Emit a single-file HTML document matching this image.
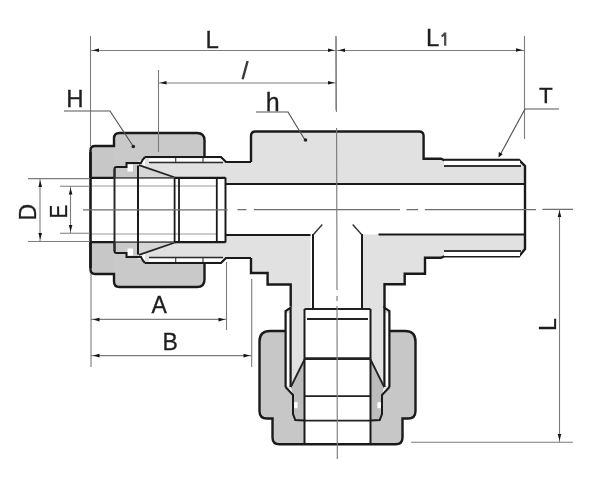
<!DOCTYPE html>
<html><head><meta charset="utf-8">
<style>
html,body{margin:0;padding:0;background:#fff;}
body{width:603px;height:485px;overflow:hidden;}
svg{display:block;will-change:transform;}
text{font-family:"Liberation Sans",sans-serif;fill:#1e1e1e;}
</style></head>
<body>
<svg width="603" height="485" viewBox="0 0 603 485">
<defs>
  <!-- top half of left fitting (mirrored about y=210) -->
  
  <!-- right half of bottom fitting (mirrored about x=337.5) -->
  
</defs>

<!-- body silhouette -->
<path d="M145,157 H221 L226,162 H251 V136 Q251,131.5 255.5,131.5 H419 Q423.6,131.5 423.6,136 V158.7 H441 L444,160 H519 L525,166 V249 L519,256.4 H444 L441,257.8 H425 V273.8 H404.7 V284.2 H384.5 V307.7 L389.8,311 V389 H284.7 V311 L290.7,306.5 V284.5 H267.6 V273 H251 V258 H226 L221,263 H145 Z" fill="#e1e1e1"/>
<!-- main bore -->
<path d="M225.5,184 H525 V234.5 H225.5 Z" fill="#fff"/>
<!-- branch bore -->
<rect x="310.5" y="234" width="51.5" height="76" fill="#fff"/>
<rect x="90.5" y="178" width="135" height="64.5" fill="#fff"/>
<rect x="304.5" y="309" width="66" height="135.3" fill="#fff"/>

<g>
    <!-- ferrule -->
    <polygon points="114.5,178 114.5,167 126,167 126,163 141,163 143,165.4 176,178" fill="#d6d6d6"/>
    <polygon points="114.5,178 114.5,167 126,167 126,163 138,163 138,178" fill="#c9c9c9"/>
    <!-- nut back -->
    <path d="M90.5,178 V150.5 Q90.5,146 95,146 H114 V178 Z" fill="#c7c7c7"/>
    <!-- nut hex -->
    <path d="M114,167 V138.5 Q114,133 119.5,133 H197 Q204.5,133 204.5,140.5 V157 H145 L141,160.5 L135,163 H126 V167 Z" fill="#c9c9c9"/>
    <!-- strip -->
    <rect x="149" y="158.3" width="74" height="3.4" fill="#fff"/>
    <rect x="127.5" y="164.5" width="5.5" height="7" fill="#fff"/>
    <!-- nut outline -->
    <path d="M90.5,178 V150.5 Q90.5,146 95,146 H114 V138.5 Q114,133 119.5,133 H197 Q204.5,133 204.5,140.5 V157" fill="none" stroke="#1a1a1a" stroke-width="2.4"/>
    <path d="M145,157 H221 L226,162 H251" fill="none" stroke="#1a1a1a" stroke-width="2.2"/>
    <path d="M114.5,178 V169 Q114.5,167 116.5,167 H126.5 V163 H141 L142.5,160 L145,157" fill="none" stroke="#1a1a1a" stroke-width="2"/>
    <path d="M149,162.5 H223" stroke="#2a2a2a" stroke-width="1.4"/>
    <path d="M175.7,158 V162 M203,158 V162" stroke="#444" stroke-width="1.2"/>
    <path d="M139,165.2 L175,177.5" stroke="#222" stroke-width="1.8"/>
    <!-- tube top -->
    <path d="M90.5,177.8 H114.5 M175,177.8 H225.5" stroke="#1a1a1a" stroke-width="2.2"/><path d="M114.5,177.8 H175" stroke="#555" stroke-width="1.8"/>
    <path d="M90.5,186 H217" stroke="#9a9a9a" stroke-width="1.2"/>
  </g>
<g transform="matrix(1,0,0,-1,0,420)">
    <!-- ferrule -->
    <polygon points="114.5,178 114.5,167 126,167 126,163 141,163 143,165.4 176,178" fill="#d6d6d6"/>
    <polygon points="114.5,178 114.5,167 126,167 126,163 138,163 138,178" fill="#c9c9c9"/>
    <!-- nut back -->
    <path d="M90.5,178 V150.5 Q90.5,146 95,146 H114 V178 Z" fill="#c7c7c7"/>
    <!-- nut hex -->
    <path d="M114,167 V138.5 Q114,133 119.5,133 H197 Q204.5,133 204.5,140.5 V157 H145 L141,160.5 L135,163 H126 V167 Z" fill="#c9c9c9"/>
    <!-- strip -->
    <rect x="149" y="158.3" width="74" height="3.4" fill="#fff"/>
    <rect x="127.5" y="164.5" width="5.5" height="7" fill="#fff"/>
    <!-- nut outline -->
    <path d="M90.5,178 V150.5 Q90.5,146 95,146 H114 V138.5 Q114,133 119.5,133 H197 Q204.5,133 204.5,140.5 V157" fill="none" stroke="#1a1a1a" stroke-width="2.4"/>
    <path d="M145,157 H221 L226,162 H251" fill="none" stroke="#1a1a1a" stroke-width="2.2"/>
    <path d="M114.5,178 V169 Q114.5,167 116.5,167 H126.5 V163 H141 L142.5,160 L145,157" fill="none" stroke="#1a1a1a" stroke-width="2"/>
    <path d="M149,162.5 H223" stroke="#2a2a2a" stroke-width="1.4"/>
    <path d="M175.7,158 V162 M203,158 V162" stroke="#444" stroke-width="1.2"/>
    <path d="M139,165.2 L175,177.5" stroke="#222" stroke-width="1.8"/>
    <!-- tube top -->
    <path d="M90.5,177.8 H114.5 M175,177.8 H225.5" stroke="#1a1a1a" stroke-width="2.2"/><path d="M114.5,177.8 H175" stroke="#555" stroke-width="1.8"/>
    <path d="M90.5,186 H217" stroke="#9a9a9a" stroke-width="1.2"/>
  </g>
<g>
    <path d="M389.8,331 H405 Q415.5,331 415.5,341.5 V411 Q415.5,418.5 408,418.5 H402.5 V437.5 Q402.5,444.3 395.5,444.3 H370.5 V420.5 L379.7,420 L382,414 L382,395 L389.5,387 Z" fill="#c7c7c7"/>
    <polygon points="370.5,359 384.2,387 382,395 382,414 379.7,420 370.5,420.5" fill="#bdbdbd"/>
    
    <rect x="377.4" y="402.2" width="5.6" height="6" fill="#fff"/>
    <rect x="385.4" y="313" width="3.4" height="73" fill="#fff"/>
    <path d="M389.8,331 H405 Q415.5,331 415.5,341.5 V411 Q415.5,418.5 408,418.5 H402.5 V437.5 Q402.5,444.3 395.5,444.3 H337.5" fill="none" stroke="#1a1a1a" stroke-width="2.4"/>
    <path d="M370.5,420.5 L379.7,420 L382,414 L382,395 L389.5,387" fill="none" stroke="#1a1a1a" stroke-width="2"/>
    <path d="M384.4,387 V307.7 L389.4,311 V387" fill="none" stroke="#1a1a1a" stroke-width="2.2"/>
    <path d="M370.5,309 V444.3" stroke="#1a1a1a" stroke-width="2"/>
    <path d="M337.5,309 H370.5 M337.5,319 H368 M337.5,396.2 H370.5 M337.5,420.6 H370.5" stroke="#222" stroke-width="1.8"/><path d="M337.5,358.6 H370.5" stroke="#222" stroke-width="2.8"/>
    <path d="M370.5,359.5 L384.2,387" stroke="#222" stroke-width="1.8"/>
    <path d="M362,234 V309" stroke="#1a1a1a" stroke-width="2"/>
    <path d="M362,235 L352.7,224.5" stroke="#333" stroke-width="1.4"/>
  </g>
<g transform="matrix(-1,0,0,1,675,0)">
    <path d="M389.8,331 H405 Q415.5,331 415.5,341.5 V411 Q415.5,418.5 408,418.5 H402.5 V437.5 Q402.5,444.3 395.5,444.3 H370.5 V420.5 L379.7,420 L382,414 L382,395 L389.5,387 Z" fill="#c7c7c7"/>
    <polygon points="370.5,359 384.2,387 382,395 382,414 379.7,420 370.5,420.5" fill="#bdbdbd"/>
    
    <rect x="377.4" y="402.2" width="5.6" height="6" fill="#fff"/>
    <rect x="385.4" y="313" width="3.4" height="73" fill="#fff"/>
    <path d="M389.8,331 H405 Q415.5,331 415.5,341.5 V411 Q415.5,418.5 408,418.5 H402.5 V437.5 Q402.5,444.3 395.5,444.3 H337.5" fill="none" stroke="#1a1a1a" stroke-width="2.4"/>
    <path d="M370.5,420.5 L379.7,420 L382,414 L382,395 L389.5,387" fill="none" stroke="#1a1a1a" stroke-width="2"/>
    <path d="M384.4,387 V307.7 L389.4,311 V387" fill="none" stroke="#1a1a1a" stroke-width="2.2"/>
    <path d="M370.5,309 V444.3" stroke="#1a1a1a" stroke-width="2"/>
    <path d="M337.5,309 H370.5 M337.5,319 H368 M337.5,396.2 H370.5 M337.5,420.6 H370.5" stroke="#222" stroke-width="1.8"/><path d="M337.5,358.6 H370.5" stroke="#222" stroke-width="2.8"/>
    <path d="M370.5,359.5 L384.2,387" stroke="#222" stroke-width="1.8"/>
    <path d="M362,234 V309" stroke="#1a1a1a" stroke-width="2"/>
    <path d="M362,235 L352.7,224.5" stroke="#333" stroke-width="1.4"/>
  </g>

<!-- left tube verticals -->
<path d="M90.5,152 V268" stroke="#1a1a1a" stroke-width="2.6"/>
<path d="M114.5,169 V251" stroke="#2a2a2a" stroke-width="2"/>
<path d="M138,165.5 V254.5" stroke="#1a1a1a" stroke-width="2"/>
<path d="M174.6,177.8 V242.6 M179,177.8 V242.6" stroke="#1a1a1a" stroke-width="1.8"/>
<path d="M216.8,177.8 V242.6" stroke="#1a1a1a" stroke-width="1.8"/>
<path d="M225.5,177.5 V242.5" stroke="#1a1a1a" stroke-width="2"/>

<!-- body outline -->
<path d="M251,162 V136 Q251,131.5 255.5,131.5 H419 Q423.6,131.5 423.6,136 V158.7 H441 L444,160 H519 L525,166 V249 L519,256.4 H444 L441,257.8 H425 V273.8 H404.7 V284.2 H384.5 V307.7" fill="none" stroke="#1a1a1a" stroke-width="2.4"/>
<path d="M251,258 V273 H267.6 V284.5 H290.7 V306.5" fill="none" stroke="#1a1a1a" stroke-width="2.4"/>
<rect x="444" y="160.8" width="76" height="4.6" fill="#fff"/><rect x="444" y="251.6" width="76" height="4.4" fill="#fff"/>
<path d="M444,166 H521 M444,251 H521" stroke="#333" stroke-width="1.8"/>
<path d="M225.5,184 H525 M225.5,235 H310.5 M378.5,234.5 H525" stroke="#1a1a1a" stroke-width="2"/>

<!-- center lines -->
<path d="M83,209.8 H227.5 M237.4,209.7 H246.5 M254,209.7 H400 M406.5,209.6 H418 M424.8,209.6 H536 M542.5,209.4 H573" stroke="#6e6e6e" stroke-width="1.2"/>
<path d="M336,36.5 L336.4,112 M336.6,128 L337,290 M337,296 L337,301 M337,306 L337.3,459" stroke="#777" stroke-width="1.1"/>
<!-- dimension lines -->
<g stroke="#7c7c7c" stroke-width="1.1" fill="none">
  <path d="M90.5,36 V146"/>
  <path d="M336,36 V110"/>
  <path d="M524.5,36 V139"/>
  <path d="M90.5,50.5 H524.5"/>
  <path d="M158.5,70 V152"/>
  <path d="M158.5,83 H336"/>
  <path d="M28,178.6 H90 M28,241.5 H90"/>
  <path d="M40,178.6 V241.5"/>
  <path d="M60,186.2 H90 M60,233.3 H90"/>
  <path d="M70.5,186.2 V233.3"/>
  <path d="M91,274 V367"/>
  <path d="M91,319.4 H226.5"/>
  <path d="M226.5,262 V330"/>
  <path d="M91,355.6 H251.7"/>
  <path d="M251.7,279 V367"/>
    <path d="M411,442.2 H573"/>
  <path d="M559.5,209.6 V442.2"/>
</g>
<!-- arrows -->
<g fill="#151515">
<polygon points="92.5,50.3 99.0,48.5 99.0,52.099999999999994"/>
<polygon points="334.5,50.3 328.0,48.5 328.0,52.099999999999994"/>
<polygon points="338.5,50.3 345.0,48.5 345.0,52.099999999999994"/>
<polygon points="522.5,50 516.0,48.2 516.0,51.8"/>
<polygon points="160,82.8 166.5,81.0 166.5,84.6"/>
<polygon points="334.5,82.8 328.0,81.0 328.0,84.6"/>
<polygon points="40.2,180.5 38.400000000000006,187.0 42.0,187.0"/>
<polygon points="40.2,239.5 38.400000000000006,233.0 42.0,233.0"/>
<polygon points="70.6,188 68.8,194.5 72.39999999999999,194.5"/>
<polygon points="70.6,231.5 68.8,225.0 72.39999999999999,225.0"/>
<polygon points="93,319.6 99.5,317.8 99.5,321.40000000000003"/>
<polygon points="225,319.6 218.5,317.8 218.5,321.40000000000003"/>
<polygon points="93,355.6 99.5,353.8 99.5,357.40000000000003"/>
<polygon points="250,355.6 243.5,353.8 243.5,357.40000000000003"/>
<polygon points="559.5,210.5 557.7,217.0 561.3,217.0"/>
<polygon points="559.5,440.5 557.7,434.0 561.3,434.0"/>
</g>
<!-- leaders -->
<g stroke="#555" stroke-width="1.2" fill="none">
  <path d="M64,111 H110 L133,146"/>
  <path d="M256,112 H288 L305,140"/>
  <path d="M559,109 H525 L499.5,156"/>
</g>
<circle cx="133.3" cy="146.5" r="1.8" fill="#222"/>
<circle cx="305.5" cy="140" r="1.8" fill="#222"/>
<polygon points="498.5,157.5 498.8,152 502.8,154.2" fill="#151515"/>

<!-- texts -->
<g fill="#1e1e1e" stroke="#1e1e1e" stroke-width="0.3">
<text x="205.5" y="47.6" font-size="24">L</text>
<text x="426" y="45.7" font-size="24">L</text>
<text x="66.3" y="107.3" font-size="24">H</text>
<text x="265.8" y="110.8" font-size="25">h</text>
<text x="539" y="103.4" font-size="22.5">T</text>
<text x="151.5" y="313.1" font-size="23">A</text>
<text x="162.5" y="350.1" font-size="23">B</text>
<text transform="translate(35.9,220.5) rotate(-90)" font-size="23">D</text>
<text transform="translate(67.2,218.5) rotate(-90) scale(0.88,1)" font-size="23.5">E</text>
<text transform="translate(555.5,331) rotate(-90)" font-size="23">L</text>
</g>
<path d="M445.2,45.7 V32.6 M445.2,32.8 Q444,35.5 441.5,36.3" stroke="#4a4a4a" stroke-width="2.2" fill="none"/>
<path d="M247.6,61 L242.6,79.2" stroke="#3a3a3a" stroke-width="2.4"/>
</svg>
</body></html>
